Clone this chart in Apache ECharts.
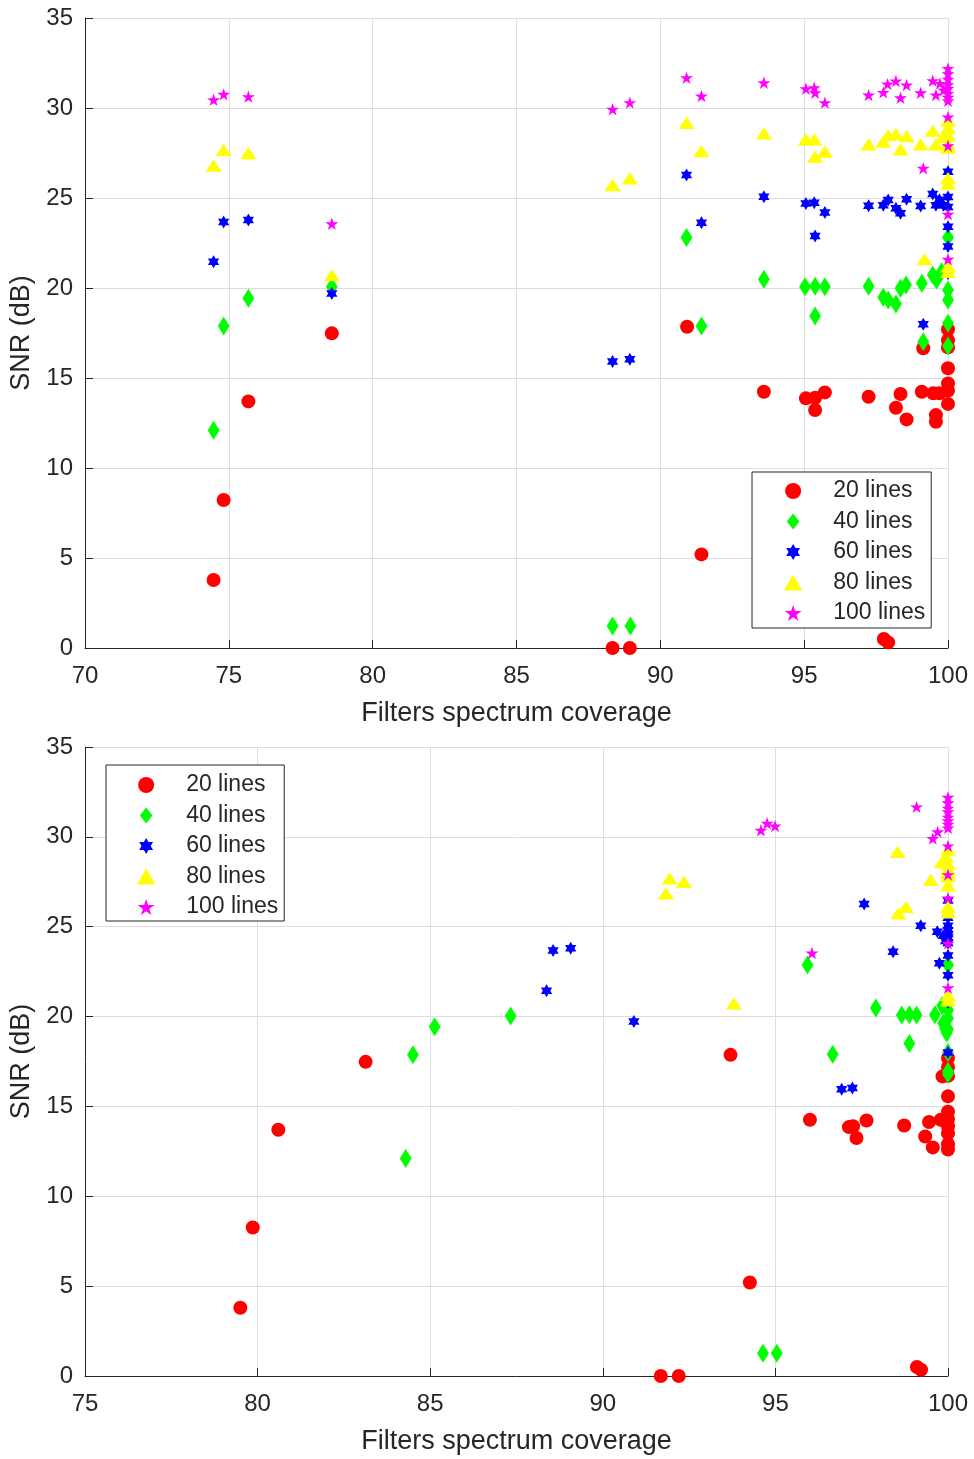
<!DOCTYPE html>
<html>
<head>
<meta charset="utf-8">
<script src="https://cdn.jsdelivr.net/npm/echarts@6/dist/echarts.min.js"></script>
<style>
html,body{margin:0;padding:0;background:#fff;}
#chart{width:974px;height:1459px;}
</style>
</head>
<body>
<div id="chart"></div>
<script>
// ---- Data ----
var seriesNames = ['20 lines', '40 lines', '60 lines', '80 lines', '100 lines'];
var yTicks = [0, 5, 10, 15, 20, 25, 30, 35];
var topXTicks = [70, 75, 80, 85, 90, 95, 100];
var bottomXTicks = [75, 80, 85, 90, 95, 100];

// Top plot
var top20 = [[74.47,3.78],[74.82,8.22],[75.68,13.7],[78.58,17.48],[88.34,0],[88.94,0],[90.93,17.85],[91.43,5.2],[93.6,14.24],[95.06,13.87],[95.38,13.9],[95.38,13.22],[95.72,14.2],[97.24,13.96],[97.77,0.5],[97.92,0.31],[98.19,13.35],[98.35,14.11],[98.56,12.7],[99.09,14.24],[99.14,16.65],[99.49,14.15],[99.58,12.94],[99.58,12.57],[99.7,14.15],[100,17.7],[100,17.1],[100,16.7],[100,15.54],[100,14.7],[100,14.3],[100,13.56]];
var top40 = [[74.47,12.1],[74.82,17.89],[75.68,19.43],[78.58,20.07],[88.34,1.22],[88.96,1.22],[90.91,22.8],[91.43,17.89],[93.6,20.48],[95.03,20.07],[95.38,20.1],[95.72,20.07],[95.38,18.44],[97.24,20.1],[97.75,19.48],[97.92,19.33],[98.19,19.11],[98.35,19.98],[98.54,20.17],[99.09,20.26],[99.14,17.02],[99.47,20.72],[99.6,20.44],[99.78,20.9],[100,22.8],[100,19.89],[100,19.33],[100,18.04],[100,16.78]];
var top60 = [[74.47,21.46],[74.82,23.67],[75.68,23.78],[78.58,19.7],[88.34,15.91],[88.94,16.04],[90.91,26.28],[91.43,23.63],[93.6,25.07],[95.06,24.7],[95.35,24.74],[95.38,22.89],[95.72,24.2],[97.24,24.57],[97.75,24.6],[97.92,24.89],[98.19,24.43],[98.35,24.15],[98.56,24.93],[99.05,24.56],[99.14,17.98],[99.47,25.22],[99.58,24.6],[99.7,24.9],[99.84,24.6],[100,26.46],[100,25.05],[100,24.5],[100,23.4],[100,22.3],[100,20.8]];
var top80 = [[74.47,26.8],[74.82,27.67],[75.68,27.5],[78.58,20.72],[88.34,25.72],[88.94,26.09],[90.91,29.18],[91.43,27.61],[93.6,28.59],[95.06,28.26],[95.35,28.26],[95.38,27.3],[95.72,27.57],[97.24,27.98],[97.75,28.13],[97.92,28.5],[98.19,28.56],[98.35,27.7],[98.56,28.44],[99.05,27.98],[99.18,21.6],[99.47,28.74],[99.58,27.98],[99.84,28.4],[100,29.3],[100,28.9],[100,28.5],[100,28.0],[100,27.8],[100,26.1],[100,25.8],[100,21.2],[100,20.9]];
var top100 = [[74.47,30.46],[74.82,30.76],[75.68,30.63],[78.58,23.57],[88.34,29.93],[88.94,30.3],[90.91,31.68],[91.43,30.67],[93.6,31.4],[95.06,31.07],[95.35,31.13],[95.38,30.85],[95.72,30.3],[97.24,30.72],[97.75,30.87],[97.9,31.33],[98.19,31.5],[98.35,30.57],[98.56,31.28],[99.05,30.85],[99.14,26.65],[99.47,31.52],[99.58,30.72],[99.72,31.37],[99.85,31.0],[100,32.2],[100,31.9],[100,31.6],[100,31.3],[100,31.1],[100,30.8],[100,30.6],[100,30.4],[100,29.5],[100,27.9],[100,24.1],[100,21.6]];

// Bottom plot
var bottom20 = [[79.5,3.8],[79.86,8.26],[80.6,13.7],[83.13,17.48],[91.68,0],[92.2,0],[93.7,17.87],[94.26,5.2],[96.0,14.26],[97.13,13.85],[97.25,13.9],[97.35,13.24],[97.64,14.22],[98.73,13.94],[99.1,0.5],[99.22,0.35],[99.34,13.33],[99.45,14.13],[99.56,12.72],[99.79,14.26],[99.84,16.67],[100,17.7],[100,17.2],[100,16.7],[100,15.56],[100,14.7],[100,14.3],[100,13.9],[100,13.5],[100,12.9],[100,12.6]];
var bottom40 = [[84.29,12.1],[84.5,17.87],[85.13,19.43],[87.33,20.03],[94.64,1.26],[95.04,1.26],[95.93,22.87],[96.66,17.9],[97.91,20.47],[98.66,20.09],[98.88,20.1],[99.09,20.09],[98.88,18.5],[99.62,20.1],[99.83,20.6],[99.86,19.63],[99.91,19.35],[99.96,19.08],[100,22.87],[100,20.35],[100,19.9],[100,19.3],[100,18.0],[100,16.94],[100,16.8]];
var bottom60 = [[88.37,21.44],[88.56,23.67],[89.07,23.8],[90.9,19.72],[96.92,15.96],[97.23,16.02],[97.57,26.26],[98.41,23.61],[99.21,25.06],[99.69,24.72],[99.75,22.97],[99.86,24.5],[99.93,24.2],[100,26.46],[100,25.5],[100,25.05],[100,24.8],[100,24.6],[100,24.4],[100,24.1],[100,23.4],[100,22.3],[100,20.8],[100,18.0]];
var bottom80 = [[91.83,26.85],[91.94,27.69],[92.35,27.5],[93.8,20.74],[98.54,29.17],[98.56,25.74],[98.78,26.11],[99.5,27.6],[99.82,28.6],[99.95,28.9],[100,29.3],[100,28.5],[100,28.2],[100,28.0],[100,27.8],[100,27.3],[100,26.1],[100,25.8],[100,21.2],[100,20.9]];
var bottom100 = [[94.58,30.37],[94.76,30.76],[94.99,30.6],[96.06,23.54],[99.09,31.67],[99.56,29.91],[99.7,30.28],[100,32.2],[100,31.9],[100,31.6],[100,31.4],[100,31.1],[100,30.9],[100,30.7],[100,30.5],[100,29.5],[100,27.9],[100,26.6],[100,24.07],[100,21.6]];

// ---- Styles ----
var PENTAGRAM = 'path://M100,0L122.45,69.1L195.1,69.1L136.33,111.8L158.78,180.9L100,138.2L41.22,180.9L63.67,111.8L4.9,69.1L77.55,69.1Z';
var HEXAGRAM = 'path://M100,0L128.87,50L186.6,50L157.7,100L186.6,150L128.87,150L100,200L71.13,150L13.4,150L42.3,100L13.4,50L71.13,50Z';
var DIAMOND = 'path://M75,0L150,95L75,190L0,95Z';
var TRIANGLE = 'path://M80,0L160,140L0,140Z';
var styles = [
  {color:'#ff0000', symbol:'circle', size:14},
  {color:'#00ff00', symbol:DIAMOND, size:[15,19]},
  {color:'#0000ff', symbol:HEXAGRAM, size:13},
  {color:'#ffff00', symbol:TRIANGLE, size:[16,14]},
  {color:'#ff00ff', symbol:PENTAGRAM, size:13}
];
var FONT = 'Liberation Sans, Arial, Helvetica, sans-serif';
var TXT = '#262626';

function makeX(idx, min, max) {
  return {
    type:'value', gridIndex:idx, min:min, max:max, interval:5,
    name:'Filters spectrum coverage', nameLocation:'middle', nameGap:52,
    nameTextStyle:{fontFamily:FONT, fontSize:27, color:TXT},
    axisLine:{show:true, onZero:false, lineStyle:{color:TXT, width:1}},
    axisTick:{show:true, inside:true, length:8, lineStyle:{color:TXT}},
    axisLabel:{fontFamily:FONT, fontSize:24, color:TXT, margin:16, showMinLabel:true, showMaxLabel:true},
    splitLine:{show:true, lineStyle:{color:'#dedede', width:1}}
  };
}
function makeY(idx) {
  return {
    type:'value', gridIndex:idx, min:yTicks[0], max:yTicks[yTicks.length-1], interval:5,
    name:'SNR (dB)', nameLocation:'middle', nameGap:42,
    nameTextStyle:{fontFamily:FONT, fontSize:27, color:TXT},
    axisLine:{show:true, onZero:false, lineStyle:{color:TXT, width:1}},
    axisTick:{show:true, inside:true, length:8, lineStyle:{color:TXT}},
    axisLabel:{fontFamily:FONT, fontSize:24, color:TXT, margin:12, showMinLabel:true, showMaxLabel:true},
    splitLine:{show:true, lineStyle:{color:'#dedede', width:1}}
  };
}
function makeSeries(idx, datasets) {
  return datasets.map(function(d, i){
    var s = styles[i];
    return {
      type:'scatter', name:seriesNames[i], xAxisIndex:idx, yAxisIndex:idx,
      data:d, symbol:s.symbol, symbolSize:s.size, symbolKeepAspect:true,
      itemStyle:{color:s.color, opacity:1}, clip:false, z:2+i,
      emphasis:{disabled:true}
    };
  });
}
function makeLegend(left, top, padLeft, padTop) {
  return {
    orient:'vertical', left:left, top:top, data:seriesNames,
    itemWidth:70, itemHeight:16, itemGap:0.5,
    padding:[padTop,6,4-padTop,padLeft], borderColor:TXT, borderWidth:1, backgroundColor:'#fff',
    textStyle:{fontFamily:FONT, fontSize:23, color:TXT, lineHeight:30},
    selectedMode:false, inactiveColor:'#ccc'
  };
}

var chart = echarts.init(document.getElementById('chart'), null, {renderer:'canvas'});
chart.setOption({
  animation:false,
  backgroundColor:'#fff',
  grid:[
    {left:85, right:26, top:18, height:630},
    {left:85, right:26, top:747, height:629}
  ],
  xAxis:[makeX(0, topXTicks[0], topXTicks[topXTicks.length-1]), makeX(1, bottomXTicks[0], bottomXTicks[bottomXTicks.length-1])],
  yAxis:[makeY(0), makeY(1)],
  legend:[makeLegend(752, 472, 32, 4), makeLegend(106, 765, 31, 5)],
  series: makeSeries(0, [top20, top40, top60, top80, top100])
          .concat(makeSeries(1, [bottom20, bottom40, bottom60, bottom80, bottom100]))
});
</script>
</body>
</html>
